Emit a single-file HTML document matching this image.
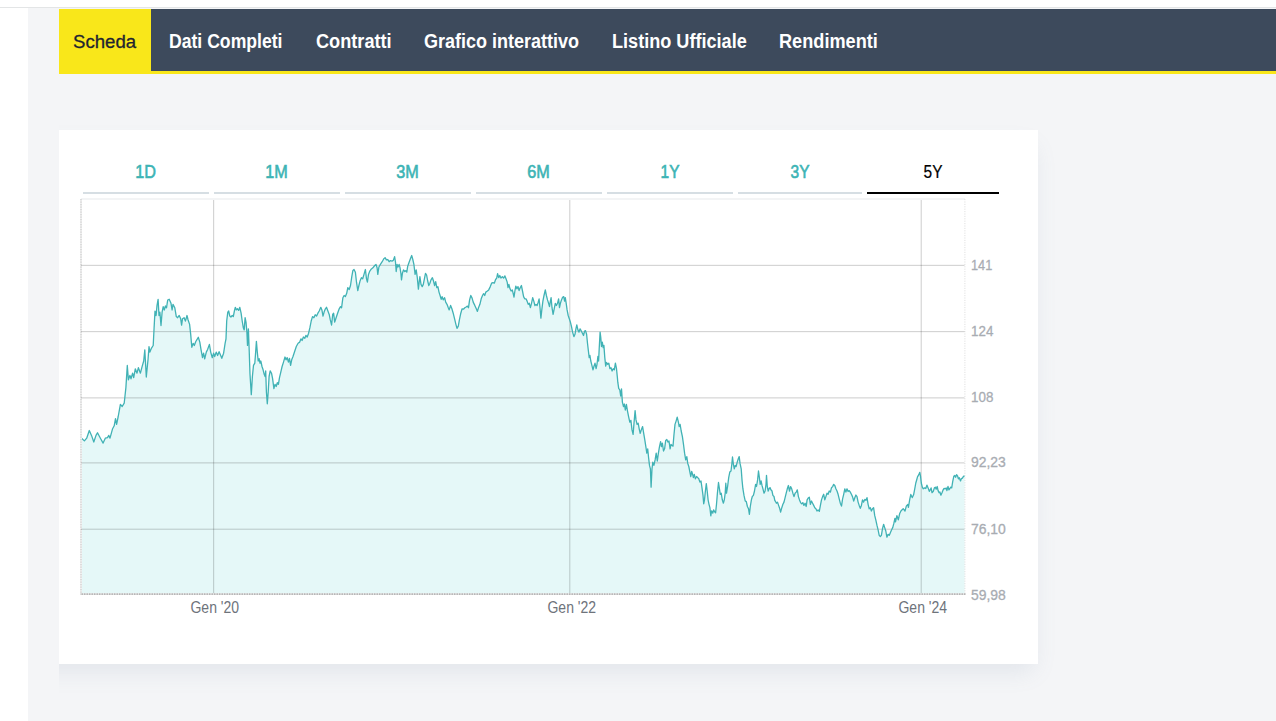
<!DOCTYPE html>
<html><head><meta charset="utf-8"><title>Scheda</title>
<style>
html,body{margin:0;padding:0;}
body{width:1276px;height:721px;overflow:hidden;background:#fff;position:relative;font-family:"Liberation Sans",sans-serif;}
.topline{position:absolute;left:0;top:7px;width:1276px;height:1px;background:#e3e5e6;}
.bg{position:absolute;left:28px;top:8px;width:1248px;height:713px;background:#f4f5f7;}
.nav{position:absolute;left:59px;top:9px;width:1217px;height:62px;background:#3d4a5c;border-bottom:3px solid #f9e71a;}
.nav .act{position:absolute;left:0;top:0;width:92px;height:65px;background:#f9e71a;}
.nav span{position:absolute;top:0;height:62px;line-height:64px;font-size:19.5px;font-weight:bold;color:#fff;white-space:nowrap;transform-origin:0 50%;}
.nav span.s{color:#1e2430;font-weight:normal;line-height:65px;-webkit-text-stroke:.3px #1e2430;}
.cardwrap{position:absolute;left:59px;top:0;width:1217px;height:721px;overflow:hidden;}
.card{position:absolute;left:-40px;top:130px;width:1019px;height:534px;background:#fff;box-shadow:0 12px 22px -5px rgba(110,135,160,.14);}
.tab{position:absolute;top:192px;height:2px;background:#d6dee3;}
.tl{position:absolute;top:160px;height:24px;line-height:24px;font-size:18px;color:#3cb4b5;text-align:center;white-space:nowrap;}
.tl b{display:inline-block;font-weight:normal;transform:scaleX(.9);-webkit-text-stroke:.6px #3cb4b5;}
.tl.on{color:#000;}
.tl.on b{-webkit-text-stroke:.2px #000;}
svg{position:absolute;left:0;top:0;}
.yl{position:absolute;left:971px;font-size:15.4px;line-height:16px;height:16px;color:#a8acb2;white-space:nowrap;transform-origin:0 50%;-webkit-text-stroke:.3px #a8acb2;}
.xl{position:absolute;top:599px;font-size:16px;line-height:18px;height:18px;color:#6e737b;white-space:nowrap;width:80px;text-align:center;}
.xl b{display:inline-block;font-weight:normal;transform:scaleX(.875);}
</style></head><body>
<div class="topline"></div>
<div class="bg"></div>
<div class="nav"><div class="act"></div>
<span class="s" style="left:13.9px;font-size:18.5px;transform:scaleX(1.005)">Scheda</span>
<span style="left:110.1px;transform:scaleX(0.903)">Dati Completi</span>
<span style="left:257px;transform:scaleX(0.931)">Contratti</span>
<span style="left:364.75px;transform:scaleX(0.9235)">Grafico interattivo</span>
<span style="left:552.75px;transform:scaleX(0.928)">Listino Ufficiale</span>
<span style="left:719.9px;transform:scaleX(0.931)">Rendimenti</span>
</div>
<div class="cardwrap"><div class="card"></div></div>
<div class="tab" style="left:83px;width:126px;"></div><div class="tl" style="left:83px;width:126px"><b>1D</b></div>
<div class="tab" style="left:214px;width:126px;"></div><div class="tl" style="left:214px;width:126px"><b>1M</b></div>
<div class="tab" style="left:345px;width:126px;"></div><div class="tl" style="left:345px;width:126px"><b>3M</b></div>
<div class="tab" style="left:476px;width:126px;"></div><div class="tl" style="left:476px;width:126px"><b>6M</b></div>
<div class="tab" style="left:607px;width:126px;"></div><div class="tl" style="left:607px;width:126px"><b style="transform:scaleX(.86)">1Y</b></div>
<div class="tab" style="left:738px;width:124px;"></div><div class="tl" style="left:738px;width:124px"><b style="transform:scaleX(.86)">3Y</b></div>
<div class="tab" style="left:867px;width:132px;background:#000;"></div><div class="tl on" style="left:867px;width:132px"><b style="transform:scaleX(.86)">5Y</b></div>
<svg width="1276" height="721" viewBox="0 0 1276 721">
<path d="M81 199H965" stroke="#f3f4f5" stroke-width="2" fill="none"/>
<path d="M81 199V594" stroke="#f1f1f1" stroke-width="2" fill="none"/><path d="M81 199V594" stroke="#dcdcdc" stroke-width="2" stroke-dasharray="1.25 1.25" fill="none"/>
<path d="M964.9 199V594" stroke="#e0e0e0" stroke-width="1" stroke-dasharray="1.2 1.2" fill="none"/>
<clipPath id="cp"><rect x="82" y="199" width="883" height="394.2"/></clipPath>
<path clip-path="url(#cp)" d="M80.9 437.6 L84.4 440.9 L86.7 438.2 L89.3 430.5 L91.5 435.4 L93.8 442 L96 435.4 L97.5 432.7 L100.4 438.2 L103.1 443.1 L105.3 438.2 L107.5 437.6 L108.8 435.4 L110 438.2 L112.6 428.7 L114.2 425.8 L115.5 418.7 L116.6 424.3 L118.2 416.5 L120.4 404.3 L122.2 406.5 L124.2 403.2 L125.9 387.6 L127.3 365.5 L128.4 379.9 L129.9 375.4 L131 378.8 L132.6 373.2 L133.7 377.7 L135.3 368.8 L137 373.2 L138.4 367.7 L140.4 373.2 L142.1 366.6 L143.7 361 L144.8 349.9 L146.3 377 L148.1 358.8 L149 346.6 L149.9 352.1 L151.5 348.1 L153.2 345.5 L154.1 327.7 L155 311.1 L156.1 315.5 L157 305.5 L158.1 299.3 L159 315.5 L159.9 312.2 L161 325.5 L162.1 312.2 L163.2 306.6 L164.3 310 L165.4 306 L166.5 307.8 L167.7 300 L169.2 299.3 L171 303.3 L172.1 310 L173 304.4 L174.8 307.8 L176.3 316.6 L177.6 317.7 L179.2 315.5 L180.7 318.8 L181.6 325.1 L182.5 318.8 L184.1 317.7 L185.4 321.1 L187 315.5 L188.1 320 L189.6 324.4 L190.7 334.4 L191.8 347.3 L193.2 343.3 L194.3 345.5 L195.8 341.5 L198.3 337.3 L199.8 342.1 L200.9 348.8 L202.5 357.7 L203.6 353.2 L204.7 358.8 L206.3 352.1 L207.6 349.5 L209.4 344.4 L210.7 352.1 L212.3 357.7 L213.6 353.2 L214.7 356.6 L216.2 352.1 L217.6 355.5 L219.1 351.7 L220.7 355.5 L221.8 358.3 L223.6 353.2 L225.1 343.3 L226 338.8 L226.7 321 L227.8 312.1 L228.7 311 L229.8 316.1 L230.9 317 L232.2 315.5 L233.3 316.6 L234.4 311 L235.3 307.3 L236.4 309.9 L237.5 308.8 L238.6 310.4 L239.8 307.3 L241.1 313.2 L242.2 321 L243.3 327.7 L244.2 329.9 L245.1 317.7 L246 322.1 L246.9 332.1 L247.5 345.4 L248.4 328.8 L249.1 347.6 L250 374.3 L251.3 394.7 L252.4 376.5 L253.5 365.4 L254.8 363.2 L255.5 354.3 L256.4 341.4 L257.3 352.1 L258.2 361 L259.1 358.7 L260 363.2 L260.8 361 L262 366.5 L263.1 369.8 L264.2 374.3 L265.1 376.5 L265.7 370.9 L266.4 392 L267.3 403.8 L268.2 392 L269.1 376.5 L270.2 370.9 L271.5 373.2 L272.6 378.7 L273.9 388.7 L275 384.3 L276.2 386.5 L277.3 382.7 L278.4 384.3 L279.5 377.6 L280.8 372.1 L282.1 366.5 L283.5 362.1 L285 357 L286.1 359.8 L287.2 357.6 L288.4 362.1 L289.5 358.3 L290.6 365.4 L291.7 359.8 L293 356.5 L294.8 351 L296.3 346.5 L298.1 343.2 L299.7 342.1 L301 338.8 L302.1 340.5 L303.4 337 L304.8 338.3 L305.9 335.4 L307.2 337 L308.6 333.2 L309.9 327.7 L311.2 321 L312.5 316.6 L313.9 317.7 L315.2 314.8 L316.5 316.1 L317.9 313.2 L319.2 311 L320.8 307.3 L321.9 309.9 L323 316.1 L324.1 312.1 L325.4 308.8 L326.5 307.3 L327.9 311 L329.2 314.4 L330.3 319.9 L331.6 325 L332.7 314.4 L333.6 313.2 L334.7 322.1 L336.1 317.7 L337.6 313.2 L339.2 308.8 L340.5 306.6 L341.6 307.7 L342.9 297.7 L344.1 295.5 L345.4 296.6 L346.7 293.3 L347.8 287.7 L349.2 289.5 L350.5 285.5 L351.8 276.6 L352.9 270.4 L354 269.5 L355.4 272.2 L356.5 282.2 L357.8 290.6 L358.9 285.5 L360 281.1 L361.4 277.7 L362.7 278.8 L364 274.4 L365.4 269.5 L366.5 278.8 L367.4 282.2 L368.5 274.4 L369.8 271.1 L371.4 268.9 L372.9 267.8 L374.7 265.5 L376 264.4 L377.1 267.7 L377.8 274.4 L378.9 267 L380.4 264.4 L382.2 261.7 L383.8 258.8 L385.1 257.7 L386.4 259.9 L387.8 259.5 L389.1 261.7 L390.4 260.6 L392 261.1 L393.3 260.4 L394.6 256.6 L395.5 262.2 L396.2 271.5 L397.1 264.4 L398 267 L399.1 264.4 L400 267.7 L400.9 273.3 L401.5 279.9 L402.4 273.3 L403.5 269.9 L404.8 271.5 L406 270.6 L406.8 272.1 L407.7 266.2 L409.1 262.2 L410.4 258.8 L411.7 255.5 L412.8 259.5 L413.9 264.4 L415.1 274.4 L416.2 269.9 L417.3 277.7 L418.4 289.2 L419.3 281 L419.9 276.6 L421 284.4 L422.2 286.6 L423.3 284.4 L424.4 278.8 L425.5 273.3 L426.6 275 L427.7 281 L428.8 285.5 L429.9 283.2 L431 279.9 L432.4 277.7 L433.5 281 L434.6 285.5 L435.7 281.7 L436.8 287.7 L437.9 286.6 L439 292.1 L440.1 295.5 L441.2 299.4 L442.1 296.6 L443.2 299.9 L444.6 297.7 L445.7 302.1 L447 304.3 L448.3 307.7 L449.2 309.9 L450.6 305.4 L451.9 308.8 L453.2 313.2 L454.6 318.8 L455.9 324.3 L457 328.3 L458.3 326.1 L459.4 319.9 L460.8 313.2 L462.1 308.8 L463.4 309.2 L464.8 307.7 L466.1 307 L467.4 306.1 L468.5 307.7 L469.6 299.9 L470.8 295.5 L472.1 298.1 L473.2 302.1 L474.8 305.4 L476.3 308.8 L477.4 311.4 L478.5 307.7 L479.9 304.3 L481.2 298.8 L482.5 295.5 L483.6 293.7 L484.7 295.5 L485.8 292.1 L487.4 291 L488.7 289.9 L490.3 286.6 L491.6 283.2 L492.9 282.6 L494.3 283.2 L495.6 279.5 L496.7 278.1 L497.6 273.7 L498.7 277.7 L499.8 275.5 L500.9 278.1 L502.3 276.6 L503.6 278.1 L504.9 275.9 L506 278.8 L507.2 282.1 L508 287.7 L508.9 284.4 L510 288.8 L511.1 291 L512.3 289.9 L513.1 293.2 L514 297.2 L514.9 291 L515.8 286.1 L516.9 288.8 L518 286.6 L519.1 290.6 L520.2 287.7 L521.4 285.5 L522.5 291 L523.6 296.6 L524.7 298.8 L526 298.8 L527.1 301.1 L528.2 304.4 L529.3 303.3 L530.4 307.7 L531.5 303.3 L532.7 297.7 L533.8 301.1 L534.9 305.5 L536 304.4 L537.1 305.5 L538.2 302.2 L539.1 298.8 L540 307.7 L540.9 318.1 L541.8 309.9 L542.9 301.1 L544 295.5 L545.3 290 L546.4 295.5 L547.5 299.9 L548.6 303.3 L549.5 306.6 L550.4 301.1 L551.1 297.7 L552 307.7 L553.1 314.4 L554.2 308.8 L555.3 303.3 L556.4 305.5 L557.5 303.3 L558.6 298.8 L559.5 307.7 L560.4 303.3 L561.5 299.9 L562.6 297.3 L563.7 296.6 L564.6 301.1 L565.3 297.7 L566.2 303.3 L567.1 309.9 L568.2 315.5 L569.3 318.8 L570.4 322.1 L571.5 326.6 L572.6 332.1 L573.9 336.6 L575 334.3 L575.9 328.8 L576.8 324.8 L577.9 329.9 L579 332.1 L580.1 328.8 L581.3 331 L582.4 333.2 L583.5 335.5 L584.6 331 L585.5 330.6 L586.6 334.3 L587.5 343.2 L588.4 351 L589.2 357.6 L589.9 355.4 L590.8 361 L591.9 365.4 L593 369.8 L593.9 366.5 L595 363.2 L596.1 368.7 L597 364.3 L597.9 356.5 L598.6 361 L599.2 348.8 L600.1 332.1 L600.8 337.7 L601.5 346.5 L602.3 342.1 L603.2 347.7 L603.9 345.4 L604.8 357.6 L605.7 366.1 L606.6 362.5 L607.7 364.3 L608.8 363.2 L609.9 368.7 L611 367.6 L612.1 371 L613.2 368.7 L614.3 369.8 L615.4 363.2 L616.5 368.7 L617.4 377.6 L617.8 382.2 L618.7 388.4 L619.8 390 L620.7 396 L621.5 388.9 L622.4 402.2 L623.5 406.6 L624.4 404 L625.3 410 L626.4 404.4 L627.5 411.1 L628.6 416.6 L629.8 422.2 L630.9 420.4 L632 429.9 L633.1 434.4 L634 423.3 L635.1 410.6 L636 419.9 L637.1 424.4 L638.2 423.3 L639.3 429.3 L640.2 433.3 L641.3 429.9 L642.6 426.6 L643.7 433.3 L644.8 439.9 L646 447.7 L646.8 453.2 L647.7 448.8 L648.6 457.7 L649.5 465.4 L650.4 468.8 L651.1 487.2 L652 468.8 L652.8 462.1 L653.9 465.4 L655.1 459.9 L656.2 453.2 L657.3 461 L658.4 453.2 L659.5 446.6 L660.6 441.7 L661.5 446.6 L662.4 443.2 L663.5 451 L664.6 448.8 L665.7 440.4 L666.8 439.5 L667.9 442.1 L669 441 L670.1 448.8 L671 444.4 L672.1 445.5 L673 446.1 L673.9 435.5 L675 424.4 L676.1 421.1 L677.2 417.1 L678.4 422.2 L679.2 426.6 L680.1 424.4 L681.2 431 L682.4 436.6 L683.5 444.4 L684.6 453.2 L685.7 459.9 L686.8 456.6 L687.7 463.2 L688.8 466.5 L689.9 472.1 L690.8 476.5 L691.7 471.4 L692.6 474.3 L693.4 477.6 L694.3 474.3 L695.4 478.8 L696.6 476.5 L697.7 477.6 L698.8 478.8 L699.9 482.1 L701 481 L702.1 488.7 L703 495.4 L703.7 503.8 L704.5 499.8 L705.4 491 L706.3 483.6 L707.2 491 L708.1 499.8 L709 504.3 L709.9 507.6 L710.8 515.8 L711.6 510.9 L712.8 513.1 L713.6 509.8 L714.8 512 L715.6 512.7 L716.5 504.3 L717.4 493.2 L718.5 482.5 L719.4 488.7 L720.3 494.3 L721.2 493.2 L722.3 499.8 L723.4 503.2 L724.3 499.8 L725.2 493.2 L725.8 483.2 L726.5 493.2 L727.6 486.5 L728.7 477.6 L729.8 472.1 L731 471 L731.8 464.3 L732.5 457 L733.4 464.3 L734.3 468.8 L735.2 465.4 L736.1 466.5 L737.2 462.1 L738.3 458.8 L739.2 456.6 L740 463.2 L741.2 468.8 L742 479.9 L742.9 488.7 L744 495.4 L745.2 500.9 L746.3 501.6 L747.4 506.5 L748.5 508.7 L749.4 514.3 L750.3 506.5 L751.4 499.8 L752.3 496.5 L753.4 495.4 L754.5 491 L755.6 484.3 L756.5 486.5 L757.6 479.9 L758.5 471 L759.4 477.6 L760.2 484.3 L761.1 481 L762 485.4 L762.9 488.7 L764 493.2 L765.1 491 L766 484.3 L766.5 475.4 L767.3 486.5 L768.2 491 L769.1 488.7 L770 487.6 L770.9 489.8 L772 491 L772.9 495.4 L774 496.5 L774.9 500.9 L775.3 501 L776.4 503.2 L777.5 502.1 L778.6 505.4 L779.8 508.8 L780.6 512.1 L781.8 507.7 L782.9 504.3 L784 502.1 L785.1 497.7 L786.2 493.2 L787.3 488.8 L788.4 485.5 L789.5 491 L790.6 486.6 L791.7 488.8 L792.9 493.2 L794 496.6 L795.1 493.2 L796.2 492.1 L797.3 489.9 L798.4 496.6 L799.5 499.9 L800.6 502.6 L801.7 503.9 L802.8 502.6 L803.9 505.4 L805.1 503.2 L806.2 506.5 L807.1 499.9 L808.2 498.1 L809.3 497.2 L810.4 504.3 L811.5 501 L812.6 503.2 L813.7 505.4 L814.8 507.7 L815.9 508.8 L817 511 L818.1 509.9 L819.3 511.4 L820.4 505.4 L821.5 499.9 L822.6 496.6 L823.7 494.3 L824.8 499.9 L825.9 496.6 L827 493.2 L828.1 494.3 L829.2 491 L830.4 492.1 L831.5 487.7 L832.6 486.6 L833.7 484.4 L834.8 485.5 L835.9 488.8 L837 491 L838.1 494.3 L839.2 498.8 L840.3 503.2 L841.5 506.1 L842.6 498.8 L843.7 494.3 L844.8 488.8 L845.9 492.1 L847 488.8 L848.1 491.5 L849.2 490.6 L850.3 492.1 L851.4 494.3 L852.5 496.6 L853.7 501 L854.8 497.7 L855.9 495 L857 496.6 L858.1 502.1 L859.2 505.4 L860.3 508.3 L861.4 505.4 L862.5 499.9 L863.6 502.1 L864.8 499.4 L865.9 500.3 L867 497.7 L868.1 504.3 L869.2 508.8 L870.3 507.7 L871.4 511 L872.5 508.8 L873.6 507.7 L874.7 515.4 L875.8 519.9 L877 525.4 L878.1 529.8 L879.2 535.4 L880.3 536.5 L881.4 535.4 L882.5 528.7 L883.6 524.3 L884.7 527.6 L885.8 531 L886.9 537.2 L888.1 534.3 L889.2 535.4 L891.4 530.2 L892.8 527.4 L893.9 523.2 L894.9 518.4 L895.5 521.8 L896.9 515.6 L898.3 519.8 L899.7 513.5 L901.1 510.7 L903.2 508.7 L905 511 L906.4 505.9 L907.8 504.5 L908.4 507.3 L909.7 499.6 L910.8 494.5 L912.2 497.6 L913.6 494.8 L914.7 489.2 L915.8 483 L916.6 480.2 L917.5 476.8 L918.8 474.7 L919.8 472.3 L920.5 476.1 L921.3 483 L922.3 487.2 L923.3 488.8 L924.7 487.9 L925.8 488.5 L926.9 485.1 L928.1 487.9 L929.3 491.3 L930.2 489.9 L931.1 487.9 L932 492.7 L933.3 491.3 L934.4 487.9 L935.4 487.2 L936.2 489.2 L937.2 486.5 L938.1 490.6 L939.1 492.7 L939.9 492 L940.9 495.2 L942 492.7 L943.1 489.9 L944.1 488.3 L945.2 488.8 L946.2 487.9 L946.9 490.6 L948 486.5 L948.9 489.9 L949.9 488.5 L950.7 487.2 L951.7 487.9 L952.7 481.6 L953.8 476.3 L954.8 475.4 L955.6 477.2 L956.6 474.7 L957.5 475.8 L958.4 478.8 L959.3 477.7 L960.5 480.9 L961.4 478.6 L962.4 478.1 L963.5 476.3 L964.5 475.8 L964.5 594 L80.9 594 Z" fill="#bfeeee" fill-opacity=".4" stroke="none"/>
<g stroke="#000" stroke-opacity=".2" stroke-width="1" fill="none">
<path d="M81 265.33H964.5M81 331.65H964.5M81 397.9H964.5M81 462.9H964.5M81 529.2H964.5"/>
<path d="M213.67 200V593.5M569.8 200V593.5M921.2 200V593.5"/>
</g>
<path clip-path="url(#cp)" d="M80.9 437.6 L84.4 440.9 L86.7 438.2 L89.3 430.5 L91.5 435.4 L93.8 442 L96 435.4 L97.5 432.7 L100.4 438.2 L103.1 443.1 L105.3 438.2 L107.5 437.6 L108.8 435.4 L110 438.2 L112.6 428.7 L114.2 425.8 L115.5 418.7 L116.6 424.3 L118.2 416.5 L120.4 404.3 L122.2 406.5 L124.2 403.2 L125.9 387.6 L127.3 365.5 L128.4 379.9 L129.9 375.4 L131 378.8 L132.6 373.2 L133.7 377.7 L135.3 368.8 L137 373.2 L138.4 367.7 L140.4 373.2 L142.1 366.6 L143.7 361 L144.8 349.9 L146.3 377 L148.1 358.8 L149 346.6 L149.9 352.1 L151.5 348.1 L153.2 345.5 L154.1 327.7 L155 311.1 L156.1 315.5 L157 305.5 L158.1 299.3 L159 315.5 L159.9 312.2 L161 325.5 L162.1 312.2 L163.2 306.6 L164.3 310 L165.4 306 L166.5 307.8 L167.7 300 L169.2 299.3 L171 303.3 L172.1 310 L173 304.4 L174.8 307.8 L176.3 316.6 L177.6 317.7 L179.2 315.5 L180.7 318.8 L181.6 325.1 L182.5 318.8 L184.1 317.7 L185.4 321.1 L187 315.5 L188.1 320 L189.6 324.4 L190.7 334.4 L191.8 347.3 L193.2 343.3 L194.3 345.5 L195.8 341.5 L198.3 337.3 L199.8 342.1 L200.9 348.8 L202.5 357.7 L203.6 353.2 L204.7 358.8 L206.3 352.1 L207.6 349.5 L209.4 344.4 L210.7 352.1 L212.3 357.7 L213.6 353.2 L214.7 356.6 L216.2 352.1 L217.6 355.5 L219.1 351.7 L220.7 355.5 L221.8 358.3 L223.6 353.2 L225.1 343.3 L226 338.8 L226.7 321 L227.8 312.1 L228.7 311 L229.8 316.1 L230.9 317 L232.2 315.5 L233.3 316.6 L234.4 311 L235.3 307.3 L236.4 309.9 L237.5 308.8 L238.6 310.4 L239.8 307.3 L241.1 313.2 L242.2 321 L243.3 327.7 L244.2 329.9 L245.1 317.7 L246 322.1 L246.9 332.1 L247.5 345.4 L248.4 328.8 L249.1 347.6 L250 374.3 L251.3 394.7 L252.4 376.5 L253.5 365.4 L254.8 363.2 L255.5 354.3 L256.4 341.4 L257.3 352.1 L258.2 361 L259.1 358.7 L260 363.2 L260.8 361 L262 366.5 L263.1 369.8 L264.2 374.3 L265.1 376.5 L265.7 370.9 L266.4 392 L267.3 403.8 L268.2 392 L269.1 376.5 L270.2 370.9 L271.5 373.2 L272.6 378.7 L273.9 388.7 L275 384.3 L276.2 386.5 L277.3 382.7 L278.4 384.3 L279.5 377.6 L280.8 372.1 L282.1 366.5 L283.5 362.1 L285 357 L286.1 359.8 L287.2 357.6 L288.4 362.1 L289.5 358.3 L290.6 365.4 L291.7 359.8 L293 356.5 L294.8 351 L296.3 346.5 L298.1 343.2 L299.7 342.1 L301 338.8 L302.1 340.5 L303.4 337 L304.8 338.3 L305.9 335.4 L307.2 337 L308.6 333.2 L309.9 327.7 L311.2 321 L312.5 316.6 L313.9 317.7 L315.2 314.8 L316.5 316.1 L317.9 313.2 L319.2 311 L320.8 307.3 L321.9 309.9 L323 316.1 L324.1 312.1 L325.4 308.8 L326.5 307.3 L327.9 311 L329.2 314.4 L330.3 319.9 L331.6 325 L332.7 314.4 L333.6 313.2 L334.7 322.1 L336.1 317.7 L337.6 313.2 L339.2 308.8 L340.5 306.6 L341.6 307.7 L342.9 297.7 L344.1 295.5 L345.4 296.6 L346.7 293.3 L347.8 287.7 L349.2 289.5 L350.5 285.5 L351.8 276.6 L352.9 270.4 L354 269.5 L355.4 272.2 L356.5 282.2 L357.8 290.6 L358.9 285.5 L360 281.1 L361.4 277.7 L362.7 278.8 L364 274.4 L365.4 269.5 L366.5 278.8 L367.4 282.2 L368.5 274.4 L369.8 271.1 L371.4 268.9 L372.9 267.8 L374.7 265.5 L376 264.4 L377.1 267.7 L377.8 274.4 L378.9 267 L380.4 264.4 L382.2 261.7 L383.8 258.8 L385.1 257.7 L386.4 259.9 L387.8 259.5 L389.1 261.7 L390.4 260.6 L392 261.1 L393.3 260.4 L394.6 256.6 L395.5 262.2 L396.2 271.5 L397.1 264.4 L398 267 L399.1 264.4 L400 267.7 L400.9 273.3 L401.5 279.9 L402.4 273.3 L403.5 269.9 L404.8 271.5 L406 270.6 L406.8 272.1 L407.7 266.2 L409.1 262.2 L410.4 258.8 L411.7 255.5 L412.8 259.5 L413.9 264.4 L415.1 274.4 L416.2 269.9 L417.3 277.7 L418.4 289.2 L419.3 281 L419.9 276.6 L421 284.4 L422.2 286.6 L423.3 284.4 L424.4 278.8 L425.5 273.3 L426.6 275 L427.7 281 L428.8 285.5 L429.9 283.2 L431 279.9 L432.4 277.7 L433.5 281 L434.6 285.5 L435.7 281.7 L436.8 287.7 L437.9 286.6 L439 292.1 L440.1 295.5 L441.2 299.4 L442.1 296.6 L443.2 299.9 L444.6 297.7 L445.7 302.1 L447 304.3 L448.3 307.7 L449.2 309.9 L450.6 305.4 L451.9 308.8 L453.2 313.2 L454.6 318.8 L455.9 324.3 L457 328.3 L458.3 326.1 L459.4 319.9 L460.8 313.2 L462.1 308.8 L463.4 309.2 L464.8 307.7 L466.1 307 L467.4 306.1 L468.5 307.7 L469.6 299.9 L470.8 295.5 L472.1 298.1 L473.2 302.1 L474.8 305.4 L476.3 308.8 L477.4 311.4 L478.5 307.7 L479.9 304.3 L481.2 298.8 L482.5 295.5 L483.6 293.7 L484.7 295.5 L485.8 292.1 L487.4 291 L488.7 289.9 L490.3 286.6 L491.6 283.2 L492.9 282.6 L494.3 283.2 L495.6 279.5 L496.7 278.1 L497.6 273.7 L498.7 277.7 L499.8 275.5 L500.9 278.1 L502.3 276.6 L503.6 278.1 L504.9 275.9 L506 278.8 L507.2 282.1 L508 287.7 L508.9 284.4 L510 288.8 L511.1 291 L512.3 289.9 L513.1 293.2 L514 297.2 L514.9 291 L515.8 286.1 L516.9 288.8 L518 286.6 L519.1 290.6 L520.2 287.7 L521.4 285.5 L522.5 291 L523.6 296.6 L524.7 298.8 L526 298.8 L527.1 301.1 L528.2 304.4 L529.3 303.3 L530.4 307.7 L531.5 303.3 L532.7 297.7 L533.8 301.1 L534.9 305.5 L536 304.4 L537.1 305.5 L538.2 302.2 L539.1 298.8 L540 307.7 L540.9 318.1 L541.8 309.9 L542.9 301.1 L544 295.5 L545.3 290 L546.4 295.5 L547.5 299.9 L548.6 303.3 L549.5 306.6 L550.4 301.1 L551.1 297.7 L552 307.7 L553.1 314.4 L554.2 308.8 L555.3 303.3 L556.4 305.5 L557.5 303.3 L558.6 298.8 L559.5 307.7 L560.4 303.3 L561.5 299.9 L562.6 297.3 L563.7 296.6 L564.6 301.1 L565.3 297.7 L566.2 303.3 L567.1 309.9 L568.2 315.5 L569.3 318.8 L570.4 322.1 L571.5 326.6 L572.6 332.1 L573.9 336.6 L575 334.3 L575.9 328.8 L576.8 324.8 L577.9 329.9 L579 332.1 L580.1 328.8 L581.3 331 L582.4 333.2 L583.5 335.5 L584.6 331 L585.5 330.6 L586.6 334.3 L587.5 343.2 L588.4 351 L589.2 357.6 L589.9 355.4 L590.8 361 L591.9 365.4 L593 369.8 L593.9 366.5 L595 363.2 L596.1 368.7 L597 364.3 L597.9 356.5 L598.6 361 L599.2 348.8 L600.1 332.1 L600.8 337.7 L601.5 346.5 L602.3 342.1 L603.2 347.7 L603.9 345.4 L604.8 357.6 L605.7 366.1 L606.6 362.5 L607.7 364.3 L608.8 363.2 L609.9 368.7 L611 367.6 L612.1 371 L613.2 368.7 L614.3 369.8 L615.4 363.2 L616.5 368.7 L617.4 377.6 L617.8 382.2 L618.7 388.4 L619.8 390 L620.7 396 L621.5 388.9 L622.4 402.2 L623.5 406.6 L624.4 404 L625.3 410 L626.4 404.4 L627.5 411.1 L628.6 416.6 L629.8 422.2 L630.9 420.4 L632 429.9 L633.1 434.4 L634 423.3 L635.1 410.6 L636 419.9 L637.1 424.4 L638.2 423.3 L639.3 429.3 L640.2 433.3 L641.3 429.9 L642.6 426.6 L643.7 433.3 L644.8 439.9 L646 447.7 L646.8 453.2 L647.7 448.8 L648.6 457.7 L649.5 465.4 L650.4 468.8 L651.1 487.2 L652 468.8 L652.8 462.1 L653.9 465.4 L655.1 459.9 L656.2 453.2 L657.3 461 L658.4 453.2 L659.5 446.6 L660.6 441.7 L661.5 446.6 L662.4 443.2 L663.5 451 L664.6 448.8 L665.7 440.4 L666.8 439.5 L667.9 442.1 L669 441 L670.1 448.8 L671 444.4 L672.1 445.5 L673 446.1 L673.9 435.5 L675 424.4 L676.1 421.1 L677.2 417.1 L678.4 422.2 L679.2 426.6 L680.1 424.4 L681.2 431 L682.4 436.6 L683.5 444.4 L684.6 453.2 L685.7 459.9 L686.8 456.6 L687.7 463.2 L688.8 466.5 L689.9 472.1 L690.8 476.5 L691.7 471.4 L692.6 474.3 L693.4 477.6 L694.3 474.3 L695.4 478.8 L696.6 476.5 L697.7 477.6 L698.8 478.8 L699.9 482.1 L701 481 L702.1 488.7 L703 495.4 L703.7 503.8 L704.5 499.8 L705.4 491 L706.3 483.6 L707.2 491 L708.1 499.8 L709 504.3 L709.9 507.6 L710.8 515.8 L711.6 510.9 L712.8 513.1 L713.6 509.8 L714.8 512 L715.6 512.7 L716.5 504.3 L717.4 493.2 L718.5 482.5 L719.4 488.7 L720.3 494.3 L721.2 493.2 L722.3 499.8 L723.4 503.2 L724.3 499.8 L725.2 493.2 L725.8 483.2 L726.5 493.2 L727.6 486.5 L728.7 477.6 L729.8 472.1 L731 471 L731.8 464.3 L732.5 457 L733.4 464.3 L734.3 468.8 L735.2 465.4 L736.1 466.5 L737.2 462.1 L738.3 458.8 L739.2 456.6 L740 463.2 L741.2 468.8 L742 479.9 L742.9 488.7 L744 495.4 L745.2 500.9 L746.3 501.6 L747.4 506.5 L748.5 508.7 L749.4 514.3 L750.3 506.5 L751.4 499.8 L752.3 496.5 L753.4 495.4 L754.5 491 L755.6 484.3 L756.5 486.5 L757.6 479.9 L758.5 471 L759.4 477.6 L760.2 484.3 L761.1 481 L762 485.4 L762.9 488.7 L764 493.2 L765.1 491 L766 484.3 L766.5 475.4 L767.3 486.5 L768.2 491 L769.1 488.7 L770 487.6 L770.9 489.8 L772 491 L772.9 495.4 L774 496.5 L774.9 500.9 L775.3 501 L776.4 503.2 L777.5 502.1 L778.6 505.4 L779.8 508.8 L780.6 512.1 L781.8 507.7 L782.9 504.3 L784 502.1 L785.1 497.7 L786.2 493.2 L787.3 488.8 L788.4 485.5 L789.5 491 L790.6 486.6 L791.7 488.8 L792.9 493.2 L794 496.6 L795.1 493.2 L796.2 492.1 L797.3 489.9 L798.4 496.6 L799.5 499.9 L800.6 502.6 L801.7 503.9 L802.8 502.6 L803.9 505.4 L805.1 503.2 L806.2 506.5 L807.1 499.9 L808.2 498.1 L809.3 497.2 L810.4 504.3 L811.5 501 L812.6 503.2 L813.7 505.4 L814.8 507.7 L815.9 508.8 L817 511 L818.1 509.9 L819.3 511.4 L820.4 505.4 L821.5 499.9 L822.6 496.6 L823.7 494.3 L824.8 499.9 L825.9 496.6 L827 493.2 L828.1 494.3 L829.2 491 L830.4 492.1 L831.5 487.7 L832.6 486.6 L833.7 484.4 L834.8 485.5 L835.9 488.8 L837 491 L838.1 494.3 L839.2 498.8 L840.3 503.2 L841.5 506.1 L842.6 498.8 L843.7 494.3 L844.8 488.8 L845.9 492.1 L847 488.8 L848.1 491.5 L849.2 490.6 L850.3 492.1 L851.4 494.3 L852.5 496.6 L853.7 501 L854.8 497.7 L855.9 495 L857 496.6 L858.1 502.1 L859.2 505.4 L860.3 508.3 L861.4 505.4 L862.5 499.9 L863.6 502.1 L864.8 499.4 L865.9 500.3 L867 497.7 L868.1 504.3 L869.2 508.8 L870.3 507.7 L871.4 511 L872.5 508.8 L873.6 507.7 L874.7 515.4 L875.8 519.9 L877 525.4 L878.1 529.8 L879.2 535.4 L880.3 536.5 L881.4 535.4 L882.5 528.7 L883.6 524.3 L884.7 527.6 L885.8 531 L886.9 537.2 L888.1 534.3 L889.2 535.4 L891.4 530.2 L892.8 527.4 L893.9 523.2 L894.9 518.4 L895.5 521.8 L896.9 515.6 L898.3 519.8 L899.7 513.5 L901.1 510.7 L903.2 508.7 L905 511 L906.4 505.9 L907.8 504.5 L908.4 507.3 L909.7 499.6 L910.8 494.5 L912.2 497.6 L913.6 494.8 L914.7 489.2 L915.8 483 L916.6 480.2 L917.5 476.8 L918.8 474.7 L919.8 472.3 L920.5 476.1 L921.3 483 L922.3 487.2 L923.3 488.8 L924.7 487.9 L925.8 488.5 L926.9 485.1 L928.1 487.9 L929.3 491.3 L930.2 489.9 L931.1 487.9 L932 492.7 L933.3 491.3 L934.4 487.9 L935.4 487.2 L936.2 489.2 L937.2 486.5 L938.1 490.6 L939.1 492.7 L939.9 492 L940.9 495.2 L942 492.7 L943.1 489.9 L944.1 488.3 L945.2 488.8 L946.2 487.9 L946.9 490.6 L948 486.5 L948.9 489.9 L949.9 488.5 L950.7 487.2 L951.7 487.9 L952.7 481.6 L953.8 476.3 L954.8 475.4 L955.6 477.2 L956.6 474.7 L957.5 475.8 L958.4 478.8 L959.3 477.7 L960.5 480.9 L961.4 478.6 L962.4 478.1 L963.5 476.3 L964.5 475.8" fill="none" stroke="#41b2b5" stroke-width="1.3" stroke-linejoin="round"/>
<path d="M80 594.1H965.5" stroke="#e0e0e0" stroke-width="1.9" fill="none"/><path d="M81.6 594.1H965.5" stroke="#b2b2b2" stroke-width="1.9" stroke-dasharray="1.25 1.25" fill="none"/>
</svg>
<div class="yl" style="top:257px;transform:scaleX(0.83)">141</div>
<div class="yl" style="top:323px;transform:scaleX(0.87)">124</div>
<div class="yl" style="top:389px;transform:scaleX(0.87)">108</div>
<div class="yl" style="top:454px;transform:scaleX(0.905)">92,23</div>
<div class="yl" style="top:521px;transform:scaleX(0.905)">76,10</div>
<div class="yl" style="top:587px;transform:scaleX(0.905)">59,98</div>
<div class="xl" style="left:174.8px"><b>Gen '20</b></div>
<div class="xl" style="left:531.8px"><b>Gen '22</b></div>
<div class="xl" style="left:882.4px"><b>Gen '24</b></div>
</body></html>
